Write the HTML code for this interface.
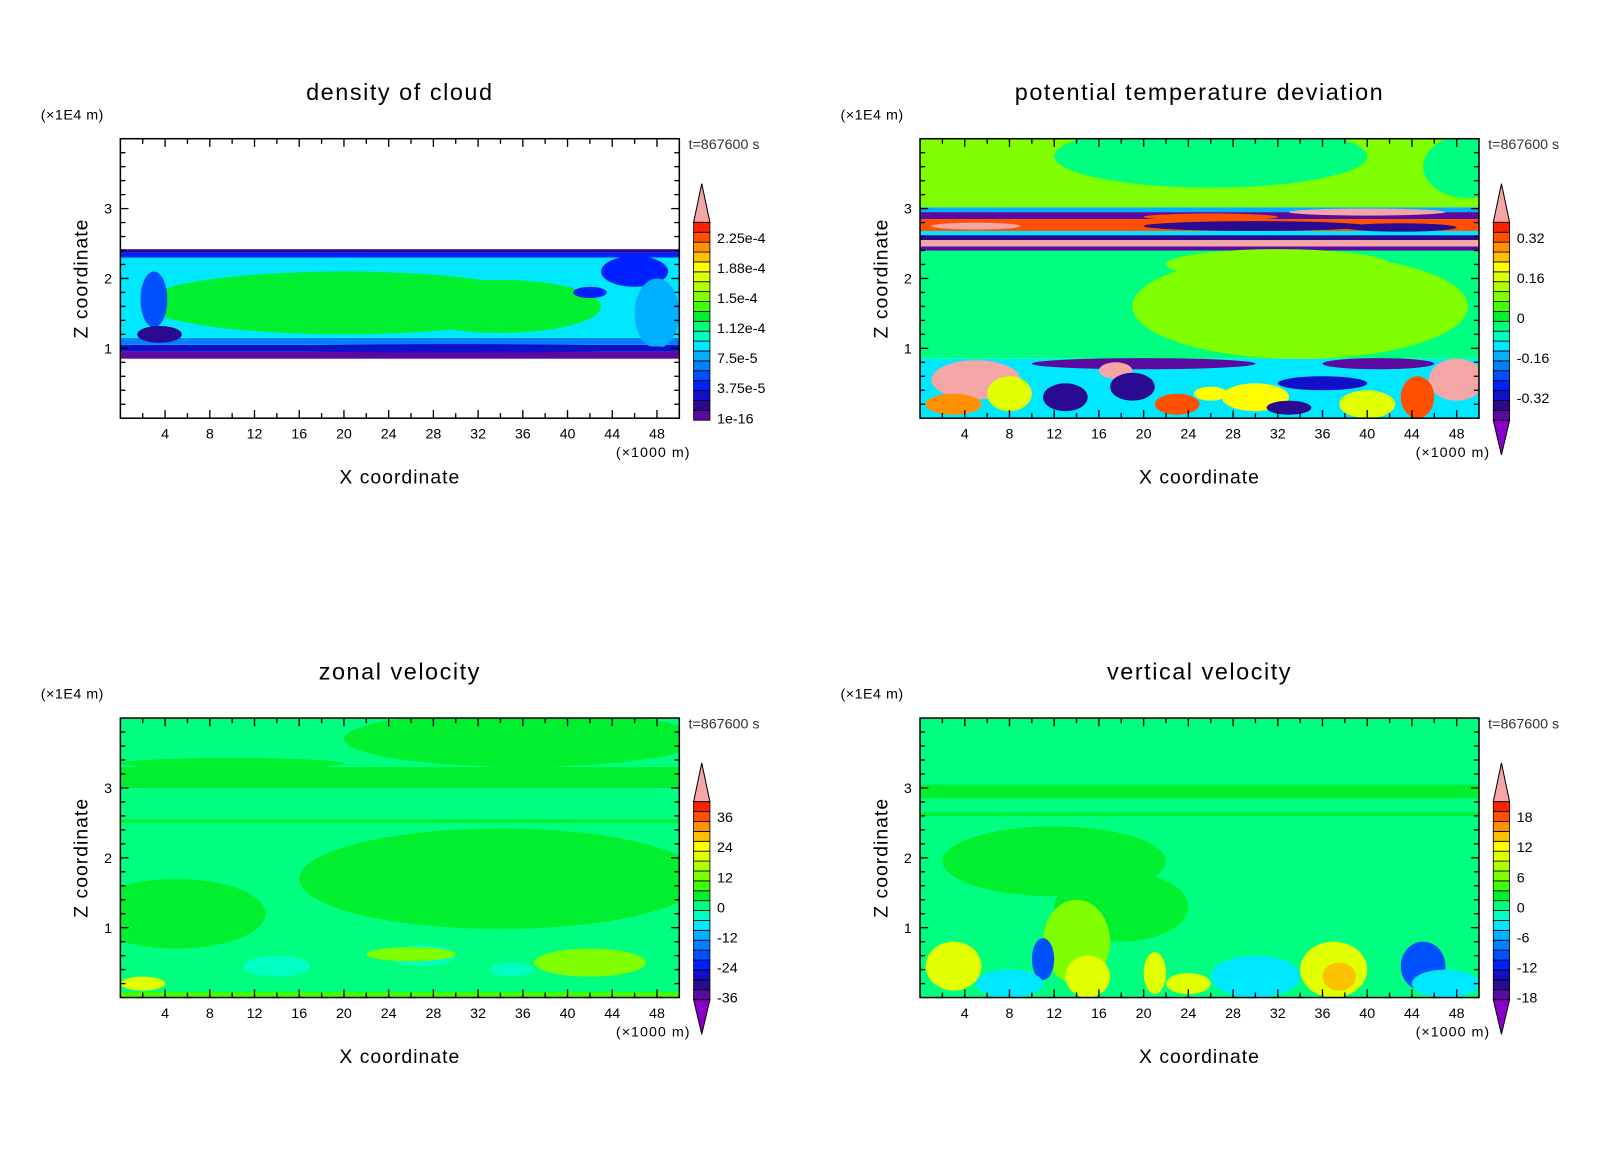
<!DOCTYPE html>
<html><head><meta charset="utf-8"><style>
html,body{margin:0;padding:0;background:#fff}
svg{display:block;font-family:"Liberation Sans",sans-serif}
</style></head><body>
<svg width="1600" height="1158" viewBox="0 0 1600 1158"><g id="fig" transform="scale(1.02)"></g></svg>
<script>
// ---- data ----
const xTicks=[4,8,12,16,20,24,28,32,36,40,44,48];
const zTicks=[1,2,3];
const titles=["density of cloud","potential temperature deviation","zonal velocity","vertical velocity"];
const cbLabels1=["2.25e-4","1.88e-4","1.5e-4","1.12e-4","7.5e-5","3.75e-5","1e-16"];
const cbLabels2=["0.32","0.16","0","-0.16","-0.32"];
const cbLabels3=["36","24","12","0","-12","-24","-36"];
const cbLabels4=["18","12","6","0","-6","-12","-18"];
// bands: [z0,z1,level]; blobs: [x,z,rx,rz,level]
const bands1=[[0.85,0.95,0],[0.95,1.05,2],[1.05,1.15,5],[1.15,2.3,7],[2.3,2.37,3],[2.37,2.42,1]];
const blobs1=[[20,1.65,18,0.45,10],[34,1.6,9,0.38,10],[12,1.7,8,0.32,10],[46,2.1,3,0.22,3],[42,1.8,1.5,0.08,3],[3,1.7,1.2,0.4,4],[3.5,1.2,2,0.12,1],[48,1.5,2,0.5,6],[30,1.0,20,0.06,2]];
const bands2=[[0,0.85,7],[0.85,2.4,9],[2.4,2.46,0],[2.46,2.55,20],[2.55,2.62,1],[2.62,2.68,7],[2.68,2.85,18],[2.85,2.95,0],[2.95,3.02,6],[3.02,4.0,12]];
const blobs2=[[26,3.75,14,0.45,9],[49,3.6,4,0.45,9],[30,2.75,10,0.07,1],[26,2.88,6,0.05,18],[40,2.95,7,0.05,20],[43,2.73,5,0.06,1],[5,2.75,4,0.05,20],[34,1.6,15,0.75,12],[32,2.2,10,0.22,12],[20,0.78,10,0.08,0],[41,0.78,5,0.08,0],[5,0.55,4,0.28,20],[48,0.55,2.5,0.3,20],[17.5,0.68,1.5,0.12,20],[13,0.3,2,0.2,1],[3,0.2,2.5,0.15,17],[23,0.2,2,0.15,18],[30,0.3,3,0.2,15],[40,0.2,2.5,0.2,14],[44.5,0.3,1.5,0.3,18],[36,0.5,4,0.1,2],[8,0.35,2,0.25,14],[19,0.45,2,0.2,1],[26,0.35,1.5,0.1,15],[33,0.15,2,0.1,1]];
const bands3=[[0,4,9],[3.0,3.3,10],[2.5,2.55,10],[0,0.08,11]];
const blobs3=[[36,3.7,16,0.4,10],[10,3.35,10,0.08,10],[34,1.7,18,0.72,10],[5,1.2,8,0.5,10],[14,0.45,3,0.15,8],[27,0.6,3,0.15,8],[26,0.62,4,0.1,12],[42,0.5,5,0.2,12],[2,0.2,2,0.1,14],[35,0.4,2,0.1,8]];
const bands4=[[0,4,9],[2.6,2.65,10],[2.85,3.05,10]];
const blobs4=[[12,1.95,10,0.5,10],[18,1.3,6,0.5,10],[3,0.45,2.5,0.35,14],[14,0.8,3,0.6,12],[15,0.3,2,0.3,14],[21,0.35,1,0.3,14],[24,0.2,2,0.15,14],[37,0.4,3,0.4,14],[37.5,0.3,1.5,0.2,16],[45,0.45,2,0.35,4],[11,0.55,1,0.3,4],[8,0.2,3,0.2,7],[30,0.3,4,0.3,7],[47,0.2,3,0.2,7]];
const palette=['#5a0aa0','#2a0a90','#1010c8','#0020ff','#0050ff','#0080ff','#00b0ff','#00e8ff','#00ffc0','#00ff80','#00f030','#40ff00','#80ff00','#b0ff00','#e0ff00','#ffff00','#ffc000','#ff9000','#ff5000','#ff2000','#f4a6a6'];
// ---- draw ----
const NS="http://www.w3.org/2000/svg";
const svg=document.getElementById('fig');
function mk(tag,attrs,parent){const e=document.createElementNS(NS,tag);for(const k in attrs)e.setAttribute(k,attrs[k]);(parent||svg).appendChild(e);return e;}
const panels=[
 {ox:0,oy:0,bands:bands1,blobs:blobs1,labs:cbLabels1,white:true,lower:false},
 {ox:784,oy:0,bands:bands2,blobs:blobs2,labs:cbLabels2,white:false,lower:true},
 {ox:0,oy:568,bands:bands3,blobs:blobs3,labs:cbLabels3,white:false,lower:true},
 {ox:784,oy:568,bands:bands4,blobs:blobs4,labs:cbLabels4,white:false,lower:true}];
panels.forEach((p,i)=>{
  const L=118+p.ox,R=666+p.ox,T=136+p.oy,B=410+p.oy;
  const xs=v=>L+(v/50)*(R-L), zs=v=>B-(v/4)*(B-T);
  const g=mk('g',{});
  
  
  const cp=mk('clipPath',{id:'cp'+i},g);mk('rect',{x:L,y:T,width:R-L,height:B-T},cp);
  const f=mk('g',{'clip-path':'url(#cp'+i+')'},g);
  
  
  p.bands.forEach(b=>{const r=mk('rect',{x:L,y:zs(b[1]),width:R-L,height:zs(b[0])-zs(b[1]),fill:palette[b[2]]},f);
    });
  p.blobs.forEach(b=>{const e=mk('ellipse',{cx:xs(b[0]),cy:zs(b[1]),rx:xs(b[2])-xs(0),ry:zs(0)-zs(b[3]),fill:palette[b[4]]},f);
    });
  if(p.white){mk('rect',{x:L,y:T,width:R-L,height:zs(2.42)-T,fill:'#fff'},f);mk('rect',{x:L,y:zs(0.85),width:R-L,height:B-zs(0.85),fill:'#fff'},f);}
  mk('rect',{x:L,y:T,width:R-L,height:B-T,fill:'none',stroke:'#000','stroke-width':1.5},g);
  for(let v=2;v<50;v+=2){const maj=v%4===0,len=maj?8:5;
    mk('line',{x1:xs(v),x2:xs(v),y1:B,y2:B-len,stroke:'#000','stroke-width':1.3},g);
    mk('line',{x1:xs(v),x2:xs(v),y1:T,y2:T+len,stroke:'#000','stroke-width':1.3},g);}
  for(let k=1;k<20;k++){const v=k*0.2,maj=k%5===0,len=maj?8:5;
    mk('line',{x1:L,x2:L+len,y1:zs(v),y2:zs(v),stroke:'#000','stroke-width':1.3},g);
    mk('line',{x1:R,x2:R-len,y1:zs(v),y2:zs(v),stroke:'#000','stroke-width':1.3},g);}
  xTicks.forEach(v=>{const t=mk('text',{x:xs(v),y:B+20,'font-size':14,'text-anchor':'middle'},g);t.textContent=v;
    });
  zTicks.forEach(v=>{const t=mk('text',{x:L-12,y:zs(v)+5,'font-size':14,'text-anchor':'middle'},g);t.textContent=v;
    });
  const tl=mk('text',{x:(L+R)/2,y:98+p.oy,'font-size':23,'text-anchor':'middle','letter-spacing':1.5},g);tl.textContent=titles[i];
  
  const u=mk('text',{x:40+p.ox,y:117+p.oy,'font-size':14,'letter-spacing':0.5},g);u.textContent='(×1E4 m)';
  
  const xu=mk('text',{x:R+11,y:448+p.oy,'font-size':14,'text-anchor':'end','letter-spacing':1},g);xu.textContent='(×1000 m)';
  
  const xt=mk('text',{x:(L+R)/2,y:474+p.oy,'font-size':19,'text-anchor':'middle','letter-spacing':1},g);xt.textContent='X coordinate';
  
  const zt=mk('text',{x:0,y:0,'font-size':19,'text-anchor':'middle','letter-spacing':1,transform:`translate(${86+p.ox},${273+p.oy}) rotate(-90)`},g);zt.textContent='Z coordinate';
  
  const tt=mk('text',{x:R+9,y:146+p.oy,'font-size':14,fill:'#333'},g);tt.textContent='t=867600 s';
  
  const cb=mk('g',{},g);
  
  const cx0=R+14,cw=16,top=218+p.oy,bot=412+p.oy,n=20,h=(bot-top)/n;
  mk('polygon',{points:`${cx0},${top} ${cx0+cw},${top} ${cx0+cw/2},${180+p.oy}`,fill:palette[20],stroke:'#000'},cb);
  for(let k=0;k<n;k++){mk('rect',{x:cx0,y:bot-(k+1)*h,width:cw,height:h,fill:palette[k],stroke:'#000','stroke-width':0.8},cb);}
  if(p.lower)mk('polygon',{points:`${cx0},${bot} ${cx0+cw},${bot} ${cx0+cw/2},${446+p.oy}`,fill:'#8a00c8',stroke:'#000'},cb);
  p.labs.forEach((s,k)=>{const y=i===1?233+p.oy+k*39.3:233+p.oy+k*29.5;
    const t=mk('text',{x:cx0+cw+7,y:y+5,'font-size':14},cb);t.textContent=s;
    });
});
</script>
</body></html>
